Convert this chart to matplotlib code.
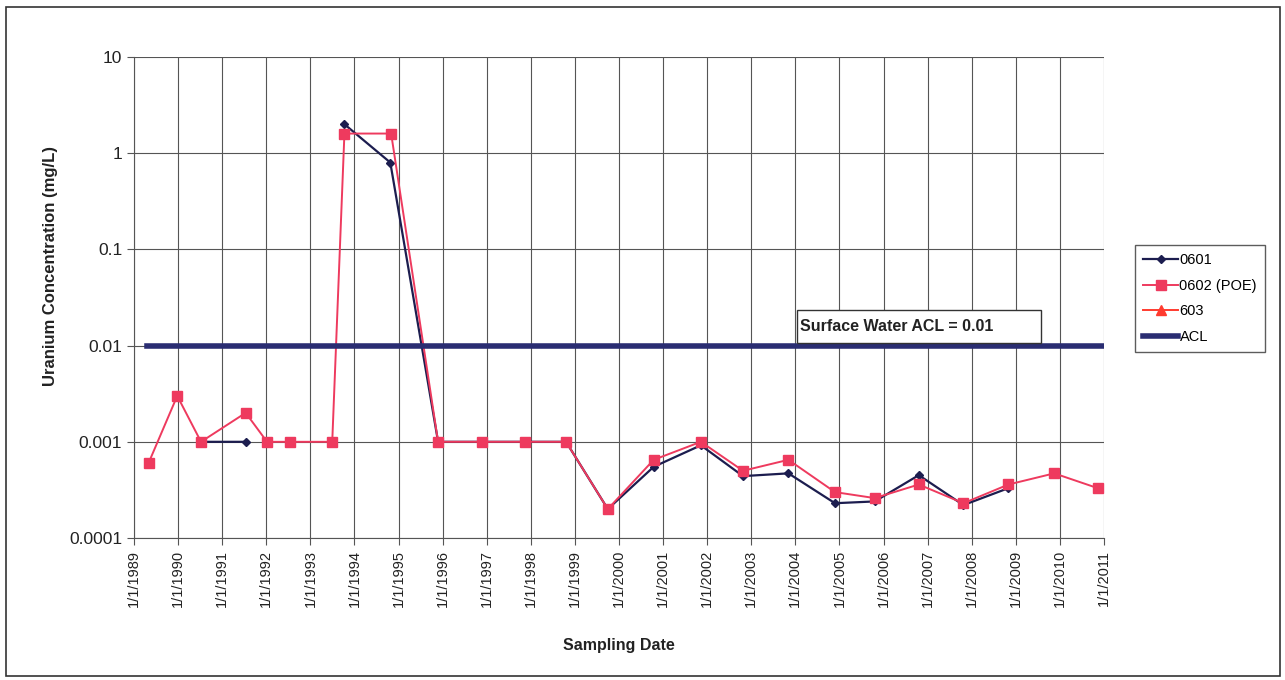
import numpy as np
import pandas as pd
import matplotlib
matplotlib.use("Agg")
import matplotlib.pyplot as plt
from matplotlib.patches import Rectangle

plt.rcParams["font.family"] = ["Liberation Sans", "DejaVu Sans"]

# well 0601 (nan = no sample, line is broken there)
dates_0601 = ["1990-07-10", "1991-07-15", "1992-01-08", "1993-10-10", "1994-10-25",
              "1995-11-25", "1996-11-25", "1997-11-15", "1998-10-20", "1999-10-01",
              "2000-10-15", "2001-11-10", "2002-10-25", "2003-11-05", "2004-11-25",
              "2005-10-20", "2006-10-20", "2007-10-25", "2008-11-01"]
u_0601 = [0.001, 0.001, np.nan, 2.0, 0.8,
          0.001, 0.001, 0.001, 0.001, 0.0002,
          0.00055, 0.00092, 0.00044, 0.00047, 0.00023,
          0.00024, 0.00045, 0.00022, 0.00033]

# well 0602 (POE)
dates_0602 = ["1989-05-01", "1989-12-25", "1990-07-10", "1991-07-15", "1992-01-08",
              "1992-07-20", "1993-07-01", "1993-10-10", "1994-11-01", "1995-11-25",
              "1996-11-25", "1997-11-15", "1998-10-20", "1999-10-01", "2000-10-15",
              "2001-11-10", "2002-10-25", "2003-11-05", "2004-11-25", "2005-10-20",
              "2006-10-20", "2007-10-25", "2008-11-01", "2009-11-15", "2010-11-10"]
u_0602 = [0.0006, 0.003, 0.001, 0.002, 0.001,
          0.001, 0.001, 1.6, 1.6, 0.001,
          0.001, 0.001, 0.001, 0.0002, 0.00065,
          0.001, 0.0005, 0.00065, 0.0003, 0.00026,
          0.00036, 0.00023, 0.00036, 0.00047, 0.00033]

# well 603 (no values shown)
dates_603 = []
u_603 = []

# surface water ACL
dates_acl = ["1989-04-20", "2011-01-01"]
u_acl = [0.01, 0.01]

years = list(range(1989, 2012))

fig = plt.figure(figsize=(12.85, 6.8), dpi=100)
ax = fig.add_axes([0.1043, 0.2088, 0.7548, 0.7074])

ax.plot(pd.to_datetime(dates_0601), u_0601, color="#1c1d4f", marker="D",
        markersize=4.5, linewidth=1.6, label="0601", zorder=3)
ax.plot(pd.to_datetime(dates_0602), u_0602, color="#ee3a5e", marker="s",
        markersize=6.5, linewidth=1.4, label="0602 (POE)", zorder=4)
ax.plot(pd.to_datetime(dates_603), u_603, color="#ff3b2f", marker="^",
        markersize=6.5, linewidth=1.4, label="603", zorder=4)
ax.plot(pd.to_datetime(dates_acl), u_acl, color="#2a2d72", linewidth=4,
        label="ACL", zorder=5)

ax.set_yscale("log")
ax.set_ylim(0.0001, 10)
ax.set_yticks([0.0001, 0.001, 0.01, 0.1, 1, 10])
ax.set_yticklabels(["0.0001", "0.001", "0.01", "0.1", "1", "10"], fontsize=12.5)
ax.yaxis.set_minor_locator(matplotlib.ticker.NullLocator())

ticks = pd.to_datetime([f"{y}-01-01" for y in years])
ax.set_xlim(ticks[0], ticks[-1])
ax.set_xticks(ticks)
ax.set_xticklabels([f"1/1/{y}" for y in years], rotation=90, fontsize=10.5)
ax.xaxis.set_minor_locator(matplotlib.ticker.NullLocator())

ax.grid(True, color="#555555", linewidth=0.8)
ax.set_axisbelow(True)
for side in ["top", "right"]:
    ax.spines[side].set_visible(False)
for side in ["left", "bottom"]:
    ax.spines[side].set_color("#555555")
ax.tick_params(length=5, color="#555555", colors="#222222")

ax.set_xlabel("Sampling Date", fontsize=11.5, fontweight="bold", labelpad=22, color="#222222")
ax.set_ylabel("Uranium Concentration (mg/L)", fontsize=12, fontweight="bold",
              color="#222222")
ax.yaxis.set_label_coords(-0.0784, 0.5655)

# ACL annotation box
ax.add_patch(Rectangle((0.6835, 0.405), 0.2515, 0.069, transform=ax.transAxes,
                       facecolor="white", edgecolor="#333333", linewidth=1, zorder=6))
ax.text(0.687, 0.4405, "Surface Water ACL = 0.01", transform=ax.transAxes,
        fontsize=11.5, fontweight="bold", va="center", ha="left", color="#222222", zorder=7)

fig.legend(loc="upper left", bbox_to_anchor=(1135 / 1285, 1 - 245 / 680),
           borderaxespad=0, frameon=True, fancybox=False, edgecolor="#333333",
           fontsize=10.5, handlelength=2.4, borderpad=0.55, labelspacing=0.8,
           handletextpad=0.1)

fig.patches.append(Rectangle((6 / 1285, 4 / 680), 1274 / 1285, 669 / 680,
                             transform=fig.transFigure, fill=False,
                             edgecolor="#333333", linewidth=1.2))

fig.savefig("out.png", dpi=100)
